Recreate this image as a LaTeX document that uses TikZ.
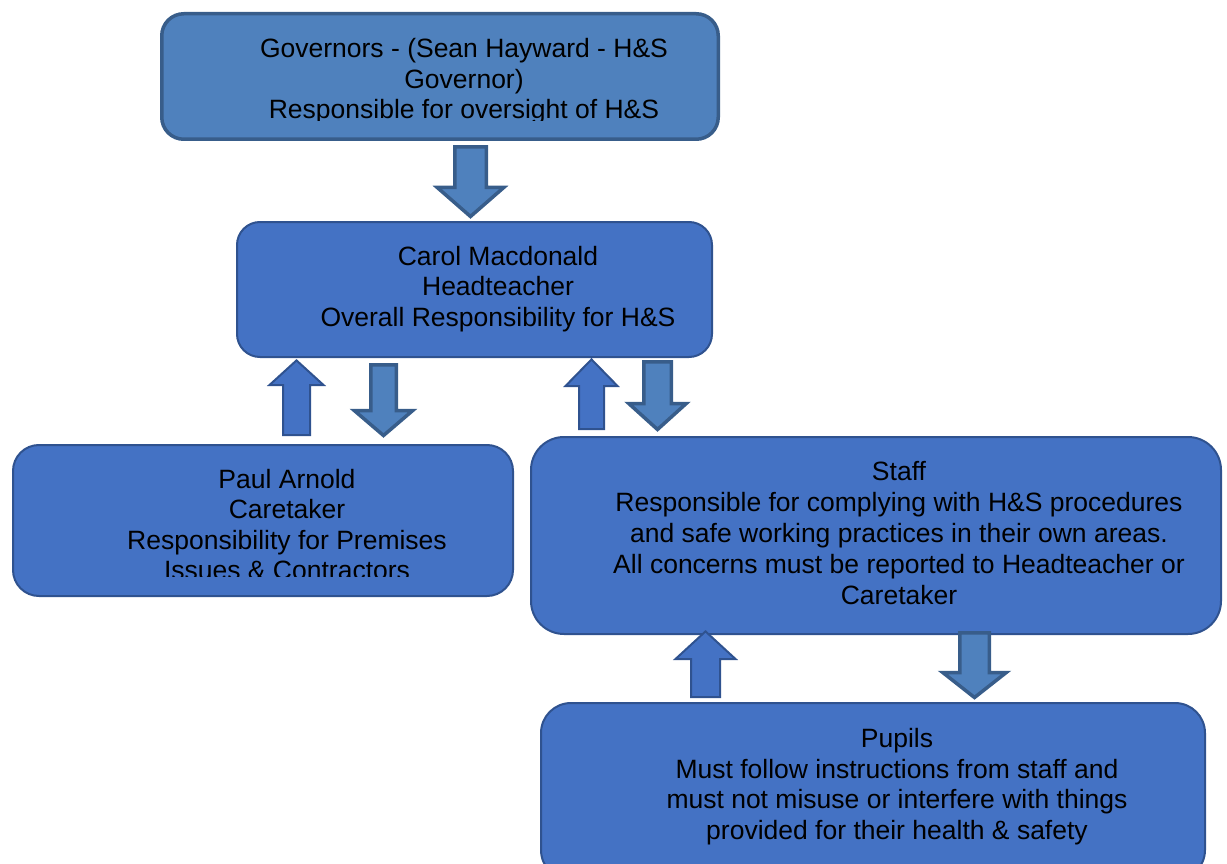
\documentclass[tikz,border=0pt]{standalone}
\usepackage{fontspec}
\setmainfont{Liberation Sans}
\usetikzlibrary{calc}

\definecolor{govfill}{RGB}{79,129,189}
\definecolor{govline}{RGB}{56,93,138}
\definecolor{rolefill}{RGB}{68,114,196}
\definecolor{roleline}{RGB}{47,82,143}

\tikzset{
  role/.style={rectangle, draw=roleline, fill=rolefill, line width=2pt, inner sep=0pt},
  govrole/.style={role, draw=govline, fill=govfill, line width=3.5pt},
  roletext/.style={align=center, inner sep=0pt, font=\fontsize{26.5}{30.5}\selectfont},
  blockshaft/.store in=\blockshaft, blockshaft=28pt,
  blockhead/.store in=\blockhead, blockhead=58pt,
  blocktip/.store in=\blocktip, blocktip=26pt,
  blockarrow/.style={line join=miter, to path={
    let \p1=(\tikztostart), \p2=(\tikztotarget), \n1={ifthenelse(\y2>\y1,1,-1)} in
    ({\x1-0.5*\blockshaft},\y1) -- ({\x1-0.5*\blockshaft},{\y2-(\n1)*\blocktip})
    -- ({\x1-0.5*\blockhead},{\y2-(\n1)*\blocktip}) -- (\x1,\y2)
    -- ({\x1+0.5*\blockhead},{\y2-(\n1)*\blocktip}) -- ({\x1+0.5*\blockshaft},{\y2-(\n1)*\blocktip})
    -- ({\x1+0.5*\blockshaft},\y1) -- cycle}},
  downblock/.style={blockarrow, draw=govline, fill=govfill, line width=3.5pt},
  upblock/.style={blockarrow, draw=roleline, fill=rolefill, line width=2pt}
}

\begin{document}
\begin{tikzpicture}[x=1pt,y=-1pt]
\useasboundingbox (0,0) rectangle (1227,864);
\clip (0,0) rectangle (1227,864);

% boxes
\node[govrole, rounded corners=22pt, minimum width=556.5pt, minimum height=125.5pt] (gov) at (440,76.5) {};
\node[role, rounded corners=23pt, minimum width=475pt, minimum height=135pt] (carol) at (474.5,289.5) {};
\node[role, rounded corners=26pt, minimum width=500pt, minimum height=151pt] (paul) at (263,520.5) {};
\node[role, rounded corners=33pt, minimum width=690pt, minimum height=197pt] (staff) at (876,535.5) {};
\node[role, rounded corners=30pt, minimum width=664pt, minimum height=177pt] (pupils) at (873,791.5) {};

% texts
\begin{scope}
\clip (160,12) rectangle (720,121);
\node[roletext] (govtext) at (464,81.5) {Governors - (Sean Hayward - H\&S\\Governor)\\Responsible for oversight of H\&S};
\end{scope}
\node[roletext] (caroltext) at (498,289) {Carol Macdonald\\Headteacher\\Overall Responsibility for H\&S};
\begin{scope}
\clip (12,444) rectangle (514,576);
\node[roletext] (paultext) at (287,524.5) {Paul Arnold\\Caretaker\\Responsibility for Premises\\Issues \& Contractors};
\end{scope}
\node[roletext, font=\fontsize{26.5}{31}\selectfont] (stafftext) at (899,533.5) {Staff\\Responsible for complying with H\&S procedures\\and safe working practices in their own areas.\\All concerns must be reported to Headteacher or\\Caretaker};
\node[roletext] (pupilstext) at (897,786.5) {Pupils\\Must follow instructions from staff and\\must not misuse or interfere with things\\provided for their health \& safety};

% arrows down
\draw[downblock, blockshaft=31.5pt, blockhead=66.5pt, blocktip=29pt] ([xshift=30.5pt,yshift=-6pt]gov.south) to ([yshift=4.5pt]carol.north);
\draw[downblock, blockshaft=25.5pt, blockhead=58.5pt, blocktip=25pt] ([xshift=-91pt,yshift=-6.75pt]carol.south) to ([yshift=8.5pt]paul.north);
\draw[downblock, blockshaft=27.5pt, blockhead=57.5pt, blocktip=26pt] ([xshift=183pt,yshift=-3.75pt]carol.south) to ([yshift=6.5pt]staff.north);
\draw[downblock, blockshaft=29.5pt, blockhead=63.5pt, blocktip=25pt] ([xshift=98.5pt,yshift=2.25pt]staff.south) to ([yshift=4.5pt]pupils.north);
% arrows up
\draw[upblock, blockshaft=27pt, blockhead=54pt, blocktip=24.6pt] ([xshift=33.5pt,yshift=9pt]paul.north) to ([yshift=-2.4pt]carol.south);
\draw[upblock, blockshaft=25pt, blockhead=52pt, blocktip=26.6pt] ([xshift=-284.5pt,yshift=7pt]staff.north) to ([yshift=-1.4pt]carol.south);
\draw[upblock, blockshaft=29pt, blockhead=60pt, blocktip=27.6pt] ([xshift=-167.5pt,yshift=5pt]pupils.north) to ([yshift=3.6pt]staff.south);
\end{tikzpicture}
\end{document}
